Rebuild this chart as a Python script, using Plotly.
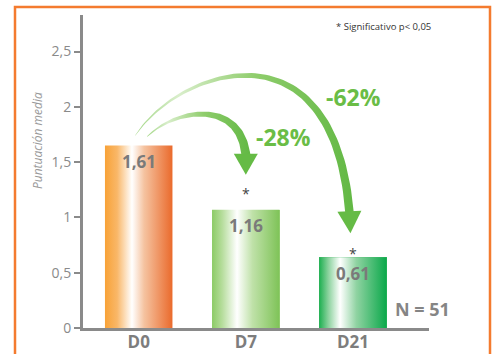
import numpy as np
import plotly.graph_objects as go

# ---------------- data ----------------
categories = ["D0", "D7", "D21"]
bar_heights = [1.65, 1.07, 0.64]          # heights as drawn in the picture
bar_labels = ["1,61", "1,16", "0,61"]
significant = [False, True, True]
reductions = ["-28%", "-62%"]
y_tickvals = [0, 0.5, 1, 1.5, 2, 2.5]
y_ticktext = ["0", "0,5", "1", "1,5", "2", "2,5"]
n_label = "N = 51"
note_text = "* Significativo p< 0,05"
y_title = "Puntuación media"

# ---------------- geometry / style ----------------
W, H = 492, 354
L, R, T, B = 83, 63, 15, 26
XR = [-0.52, 2.71]
YR = [0, 2.83]
PW = W - L - R
PH = H - T - B
BAR_W = 0.63
FONT = "Open Sans"

def x2px(x):
    return L + (x - XR[0]) / (XR[1] - XR[0]) * PW

def y2px(y):
    return T + PH - (y - YR[0]) / (YR[1] - YR[0]) * PH

def px2x(px):
    return XR[0] + (np.asarray(px) - L) / PW * (XR[1] - XR[0])

def py2y(py):
    return YR[0] + (T + PH - np.asarray(py)) / PH * (YR[1] - YR[0])

def px2paper(px):
    return (px - L) / PW

def py2paper(py):
    return (T + PH - py) / PH

bar_scales = [
    [[0, "#f8a237"], [0.18, "#f9b768"], [0.4, "#ffffff"], [0.58, "#f5c3a0"], [1, "#ea6a2c"]],
    [[0, "#8ccb66"], [0.15, "#b6dd9c"], [0.37, "#ffffff"], [0.6, "#bfe1a8"], [1, "#7ec357"]],
    [[0, "#1daf50"], [0.14, "#8ed3a0"], [0.31, "#ffffff"], [0.55, "#90d3a2"], [1, "#0aa84a"]],
]
bar_base = ["#f4a261", "#a9d68b", "#4cbc6c"]

fig = go.Figure()

# base bars
fig.add_trace(go.Bar(x=list(range(len(categories))), y=bar_heights, width=BAR_W,
                     marker=dict(color=bar_base, line=dict(width=0)),
                     hoverinfo="skip", showlegend=False))

# gradient overlay of bars
for i, v in enumerate(bar_heights):
    x0, x1 = i - BAR_W / 2, i + BAR_W / 2
    fig.add_trace(go.Scatter(
        x=[x0, x1, x1, x0, x0], y=[0, 0, v, v, 0], mode="lines",
        line=dict(width=0), fill="toself",
        fillgradient=dict(type="horizontal", colorscale=bar_scales[i]),
        hoverinfo="skip", showlegend=False))

# ---------------- curved arrows ----------------
arrow_scale = [[0, "#a3d786"], [0.2, "#d9eecb"], [0.55, "#8fcd6c"], [1, "#62b844"]]
HEAD_COL = "#65bb45"

def add_arrow(p0, p1, p2, p3, tip, head_half, wmax):
    t = np.linspace(0, 1, 80)
    P = [np.array(p) for p in (p0, p1, p2, p3)]
    pts = ((1 - t) ** 3)[:, None] * P[0] + (3 * (1 - t) ** 2 * t)[:, None] * P[1] \
        + (3 * (1 - t) * t ** 2)[:, None] * P[2] + (t ** 3)[:, None] * P[3]
    d = (-3 * (1 - t) ** 2)[:, None] * P[0] + (3 * (1 - t) ** 2 - 6 * (1 - t) * t)[:, None] * P[1] \
        + (6 * (1 - t) * t - 3 * t ** 2)[:, None] * P[2] + (3 * t ** 2)[:, None] * P[3]
    d = d / np.linalg.norm(d, axis=1)[:, None]
    n = np.stack([-d[:, 1], d[:, 0]], axis=1)
    w = 0.4 + (wmax - 0.4) * t ** 0.85
    up = pts + n * (w / 2)[:, None]
    lo = pts - n * (w / 2)[:, None]
    poly = np.vstack([up, lo[::-1], up[:1]])
    fig.add_trace(go.Scatter(
        x=px2x(poly[:, 0]), y=py2y(poly[:, 1]), mode="lines", line=dict(width=0),
        fill="toself", fillgradient=dict(type="horizontal", colorscale=arrow_scale),
        hoverinfo="skip", showlegend=False))
    end = P[3]
    dirv = np.array(tip) - end
    dirv = dirv / np.linalg.norm(dirv)
    nv = np.array([-dirv[1], dirv[0]])
    base = end - dirv * 1.0
    hx = [base[0] + nv[0] * head_half, tip[0], base[0] - nv[0] * head_half, base[0] + nv[0] * head_half]
    hy = [base[1] + nv[1] * head_half, tip[1], base[1] - nv[1] * head_half, base[1] + nv[1] * head_half]
    fig.add_trace(go.Scatter(
        x=px2x(hx), y=py2y(hy), mode="lines", line=dict(width=0, color=HEAD_COL),
        fill="toself", fillcolor=HEAD_COL, hoverinfo="skip", showlegend=False))

# anchor arrows on bar tops (pixel offsets are styling)
b0 = (x2px(0), y2px(bar_heights[0]))
b1 = (x2px(1), y2px(bar_heights[1]))
b2 = (x2px(2), y2px(bar_heights[2]))

# arrow D0 -> D7
s1 = (b0[0] + 8.5, b0[1] - 9)
tip1 = (b1[0], b1[1] - 35)
e1 = (tip1[0], tip1[1] - 20)
add_arrow(s1, (s1[0] + 28, s1[1] - 28), (e1[0] - 6, e1[1] - 56), e1, tip1, 12, 9)

# arrow D0 -> D21
s2 = (b0[0] - 3.5, b0[1] - 10)
tip2 = (b2[0] - 2.5, b2[1] - 24)
e2 = (tip2[0] - 1, tip2[1] - 21)
add_arrow(s2, (s2[0] + 45, s2[1] - 68), (e2[0] - 16, e2[1] - 194), e2, tip2, 12, 8.5)

# ---------------- annotations ----------------
ann = []
for i, (v, lab) in enumerate(zip(bar_heights, bar_labels)):
    ann.append(dict(x=i, y=v, text=lab, showarrow=False, yshift=-16,
                    font=dict(family=FONT, size=17, color="#7a7a7a", weight="bold")))
ast_off = [0, 20, 8]
for i, (v, s) in enumerate(zip(bar_heights, significant)):
    if s:
        ann.append(dict(x=i, y=v, text="*", showarrow=False, yshift=ast_off[i] - 4,
                        font=dict(family=FONT, size=14, color="#444444")))

pct_pos = [(283, 137), (353, 97)]
for txt, (px, py) in zip(reductions, pct_pos):
    ann.append(dict(x=float(px2x(px)), y=float(py2y(py)), text=txt, showarrow=False,
                    font=dict(family=FONT, size=23, color="#6abd46", weight="bold")))

ann.append(dict(x=float(px2x(422)), y=float(py2y(309)), text=n_label, showarrow=False,
                font=dict(family=FONT, size=18, color="#858585", weight="bold")))
ann.append(dict(x=px2paper(383), y=py2paper(26), xref="paper", yref="paper",
                xanchor="center", yanchor="middle",
                text=note_text, showarrow=False,
                font=dict(family=FONT, size=9.5, color="#333333")))
ann.append(dict(x=px2paper(37), y=py2paper(141), xref="paper", yref="paper",
                xanchor="center", yanchor="middle",
                text=y_title, showarrow=False, textangle=-90,
                font=dict(family=FONT, size=12, color="#9a9a9a", style="italic")))

# orange frame
shapes = [dict(type="rect", xref="paper", yref="paper",
               x0=px2paper(15), x1=px2paper(490),
               y0=py2paper(370), y1=py2paper(7),
               line=dict(color="#f47b2f", width=2.5), fillcolor="rgba(0,0,0,0)", layer="below")]

fig.update_layout(
    width=W, height=H, margin=dict(l=L, r=R, t=T, b=B, autoexpand=False),
    paper_bgcolor="white", plot_bgcolor="white",
    showlegend=False, annotations=ann, shapes=shapes, bargap=0,
    xaxis=dict(range=XR, tickvals=list(range(len(categories))), ticktext=categories,
               showline=True, linecolor="#8a8a8a", linewidth=3, ticks="",
               ticklabelstandoff=-3,
               showgrid=False, zeroline=False, fixedrange=True,
               tickfont=dict(family=FONT, size=17, color="#7d7d7d", weight="bold")),
    yaxis=dict(range=YR, tickvals=y_tickvals, ticktext=y_ticktext,
               showline=True, linecolor="#8a8a8a", linewidth=3,
               ticks="outside", ticklen=6, tickwidth=1.5, tickcolor="#8a8a8a",
               showgrid=False, zeroline=False, fixedrange=True,
               tickfont=dict(family=FONT, size=14, color="#8a8a8a")),
)

fig.write_html("out.html")
